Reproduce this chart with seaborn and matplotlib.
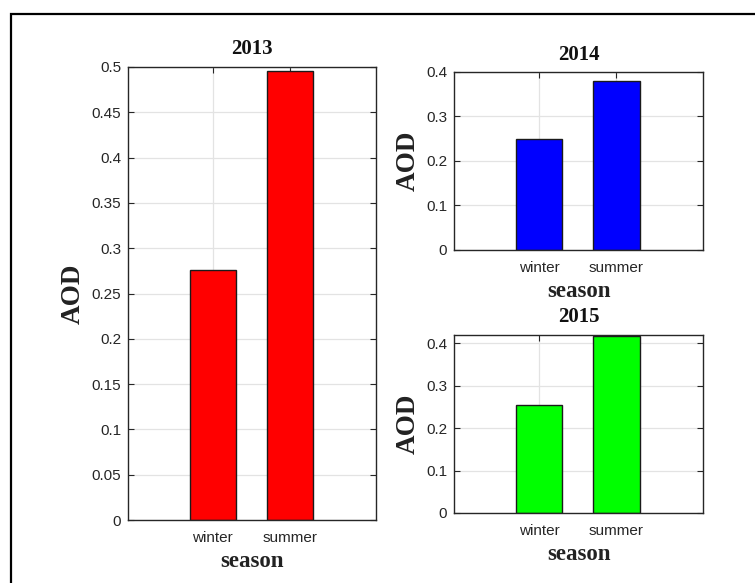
import matplotlib
matplotlib.use("Agg")
import matplotlib.pyplot as plt
import matplotlib.patches as mpatches
import seaborn as sns
import pandas as pd

seasons = ["winter", "summer"]
aod_2013 = [0.276, 0.496]
aod_2014 = [0.250, 0.379]
aod_2015 = [0.254, 0.417]
titles = ["2013", "2014", "2015"]
colors = ["#ff0000", "#0000ff", "#00ff00"]
yticks_2013 = [0, 0.05, 0.1, 0.15, 0.2, 0.25, 0.3, 0.35, 0.4, 0.45, 0.5]
yticks_small = [0, 0.1, 0.2, 0.3, 0.4]

sns.set_style("white")
plt.rcParams["font.family"] = ["Liberation Sans", "DejaVu Sans"]

W, H = 755, 583
fig = plt.figure(figsize=(W / 100, H / 100), dpi=100)

def px_axes(x0, y0, x1, y1):
    return fig.add_axes([x0 / W, 1 - y1 / H, (x1 - x0) / W, (y1 - y0) / H])

serif = ["Liberation Serif", "DejaVu Serif"]
ink = "#262626"

def draw(ax, vals, color, title, yticks, ylim, ylabels):
    df = pd.DataFrame({"season": seasons, "AOD": vals})
    sns.barplot(data=df, x="season", y="AOD", color=color, edgecolor="#1a1a1a",
                linewidth=1.0, width=0.6, saturation=1, ax=ax, zorder=3)
    ax.set_xlim(-1.1, 2.12)
    ax.set_ylim(*ylim)
    ax.set_yticks(yticks)
    ax.set_yticklabels(ylabels)
    ax.grid(True, color="#e3e3e3", linewidth=0.9, zorder=0)
    ax.set_axisbelow(True)
    for s in ax.spines.values():
        s.set_color(ink)
        s.set_linewidth(1.0)
        s.set_visible(True)
        s.set_zorder(5)
    ax.tick_params(direction="in", length=4, width=0.8, color=ink,
                   labelsize=11, labelcolor=ink, top=True, right=True,
                   bottom=True, left=True)
    ax.tick_params(axis="x", pad=8)
    ax.tick_params(axis="y", pad=5)
    ax.set_title(title, fontsize=15, fontweight="bold", family=serif,
                 color="#111111", pad=9)
    ax.set_xlabel("season", fontsize=16.5, fontweight="bold", family=serif,
                  color="#222222", labelpad=4)
    ax.set_ylabel("AOD", fontsize=19.5, fontweight="bold", family=serif,
                  color="#222222", labelpad=4)

def fmt(v):
    return "0" if v == 0 else ("%g" % v)

ax1 = px_axes(128, 67, 376, 520)
draw(ax1, aod_2013, colors[0], titles[0], yticks_2013, (0, 0.5),
     [fmt(v) for v in yticks_2013])
ax2 = px_axes(454, 72, 703, 250)
draw(ax2, aod_2014, colors[1], titles[1], yticks_small, (0, 0.4),
     [fmt(v) for v in yticks_small])
ax3 = px_axes(454, 335, 703, 513)
draw(ax3, aod_2015, colors[2], titles[2], yticks_small, (0, 0.419),
     [fmt(v) for v in yticks_small])

border = mpatches.Rectangle((11 / W, -0.2), 1.2, 1 - 14 / H + 0.2,
                            transform=fig.transFigure, fill=False,
                            edgecolor="black", linewidth=1.6, clip_on=False)
fig.patches.append(border)

fig.savefig("out.png", dpi=100)
